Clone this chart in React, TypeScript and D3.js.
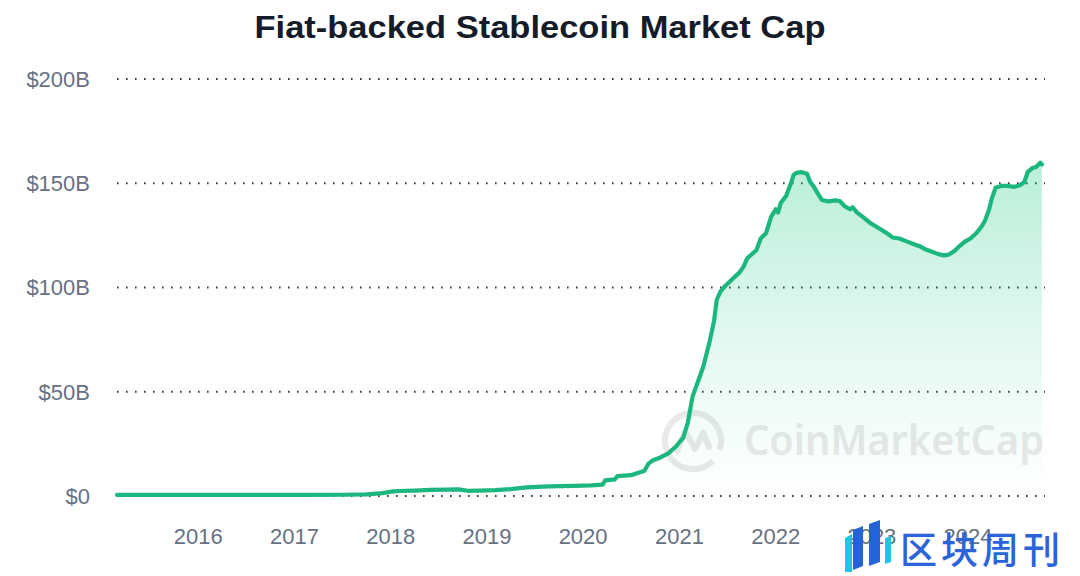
import React, { useEffect, useRef } from 'react';
import * as d3 from 'd3';

// Market cap in $B
const dates = [
  '2015-02-27', '2015-09-01', '2016-03-01', '2016-09-01', '2017-03-01', '2017-07-01',
  '2017-10-01', '2017-12-01', '2018-01-10', '2018-02-01', '2018-04-01', '2018-06-01',
  '2018-08-01', '2018-09-15', '2018-10-20', '2018-12-01', '2019-02-01', '2019-04-01',
  '2019-06-01', '2019-08-01', '2019-10-01', '2019-12-01', '2020-02-01', '2020-03-15',
  '2020-03-25', '2020-05-01', '2020-05-10', '2020-07-01', '2020-08-01', '2020-08-20',
  '2020-09-05', '2020-09-20', '2020-10-20', '2020-11-20', '2020-12-20', '2021-01-15',
  '2021-02-01', '2021-02-20', '2021-03-15', '2021-04-01', '2021-04-25', '2021-05-12',
  '2021-05-22', '2021-06-05', '2021-06-25', '2021-07-20', '2021-08-15', '2021-09-01',
  '2021-09-15', '2021-10-20', '2021-11-05', '2021-11-25', '2021-12-15', '2022-01-01',
  '2022-01-10', '2022-01-20', '2022-02-10', '2022-03-01', '2022-03-10', '2022-03-20',
  '2022-04-10', '2022-04-30', '2022-05-12', '2022-05-25', '2022-06-10', '2022-06-25',
  '2022-07-20', '2022-08-15', '2022-09-01', '2022-09-20', '2022-10-10', '2022-10-20',
  '2022-11-05', '2022-12-01', '2022-12-25', '2023-01-20', '2023-02-15', '2023-03-05',
  '2023-03-20', '2023-04-15', '2023-05-15', '2023-06-15', '2023-07-01', '2023-07-20',
  '2023-08-20', '2023-09-10', '2023-10-01', '2023-10-20', '2023-11-10', '2023-12-01',
  '2023-12-20', '2024-01-10', '2024-02-01', '2024-02-20', '2024-03-05', '2024-03-20',
  '2024-04-01', '2024-04-15', '2024-05-10', '2024-06-01', '2024-06-25', '2024-07-15',
  '2024-08-01', '2024-08-15', '2024-09-01', '2024-09-15', '2024-10-01', '2024-10-07'
];
const marketCap = [
  0.5, 0.5, 0.5, 0.5, 0.5, 0.6,
  0.8, 1.4, 2.2, 2.4, 2.6, 2.9,
  3.1, 3.2, 2.5, 2.6, 2.8, 3.3,
  4.1, 4.5, 4.7, 4.9, 5.1, 5.5,
  7.5, 8.0, 9.5, 10.0, 11.3, 12.0,
  15.5, 17.0, 18.5, 20.5, 24.0, 28.0,
  35.0, 48.0, 56.0, 62.0, 74.0, 84.0,
  94.0, 98.0, 101.0, 104.0, 107.0, 110.0,
  114.0, 118.0, 123.5, 126.0, 134.0, 137.5,
  136.0, 140.5, 144.0, 150.5, 154.0, 155.0,
  155.3, 154.5, 150.5, 148.5, 145.0, 142.0,
  141.3, 141.8, 141.5, 139.0, 137.5, 138.5,
  136.0, 133.5, 131.0, 129.0, 127.0, 125.5,
  124.0, 123.5, 122.0, 120.5, 119.8, 118.5,
  117.0, 116.0, 115.4, 115.8, 117.5, 120.0,
  122.0, 123.5, 126.0, 129.0, 132.0, 137.0,
  143.0, 148.0, 148.8, 148.7, 148.3, 149.0,
  150.5, 155.5, 157.3, 157.8, 159.8, 159.0
];
const yTicks = [0, 50, 100, 150, 200];
const yTickLabels = ['$0', '$50B', '$100B', '$150B', '$200B'];
const xTickYears = [2016, 2017, 2018, 2019, 2020, 2021, 2022, 2023, 2024];

const W = 1080;
const H = 576;

export default function App() {
  const ref = useRef<SVGSVGElement>(null);

  useEffect(() => {
    document.body.style.margin = '0';
    const svg = d3.select(ref.current);
    svg.selectAll('*').remove();

    const parse = d3.timeParse('%Y-%m-%d');
    const data = dates.map((d, i) => ({ date: parse(d) as Date, value: marketCap[i] }));

    const x = d3.scaleTime()
      .domain([parse('2015-02-27') as Date, parse('2024-10-19') as Date])
      .range([117, 1045]);
    const y = d3.scaleLinear().domain([0, 200]).range([496, 79]);

    // gradient for the area
    const defs = svg.append('defs');
    const grad = defs.append('linearGradient')
      .attr('id', 'areaGrad')
      .attr('gradientUnits', 'userSpaceOnUse')
      .attr('x1', 0).attr('x2', 0)
      .attr('y1', y(160)).attr('y2', y(0));
    grad.append('stop').attr('offset', '0%').attr('stop-color', '#16c784').attr('stop-opacity', 0.3);
    grad.append('stop').attr('offset', '60%').attr('stop-color', '#16c784').attr('stop-opacity', 0.1);
    grad.append('stop').attr('offset', '100%').attr('stop-color', '#16c784').attr('stop-opacity', 0.0);

    // title
    svg.append('text')
      .attr('x', 540)
      .attr('y', 38)
      .attr('text-anchor', 'middle')
      .attr('font-family', 'Liberation Sans, Arial, sans-serif')
      .attr('font-weight', 'bold')
      .attr('font-size', 32)
      .attr('fill', '#151b29')
      .attr('textLength', 571)
      .attr('lengthAdjust', 'spacingAndGlyphs')
      .text('Fiat-backed Stablecoin Market Cap');

    // grid lines + y labels
    const yAxis = svg.append('g');
    yAxis.selectAll('line')
      .data(yTicks)
      .enter()
      .append('line')
      .attr('x1', 117)
      .attr('x2', 1045)
      .attr('y1', (d) => y(d))
      .attr('y2', (d) => y(d))
      .attr('stroke', '#3a3a3a')
      .attr('stroke-width', 2)
      .attr('stroke-dasharray', '1.6 7.4');
    yAxis.selectAll('text')
      .data(yTicks)
      .enter()
      .append('text')
      .attr('x', 90)
      .attr('y', (d) => y(d))
      .attr('dy', '0.36em')
      .attr('text-anchor', 'end')
      .attr('font-family', 'Liberation Sans, Arial, sans-serif')
      .attr('font-size', 22)
      .attr('fill', '#677183')
      .text((d, i) => yTickLabels[i]);

    // x labels
    svg.append('g')
      .selectAll('text')
      .data(xTickYears)
      .enter()
      .append('text')
      .attr('x', (d) => x(new Date(d, 0, 1)))
      .attr('y', 544)
      .attr('text-anchor', 'middle')
      .attr('font-family', 'Liberation Sans, Arial, sans-serif')
      .attr('font-size', 22)
      .attr('fill', '#677183')
      .text((d) => String(d));

    // CoinMarketCap watermark
    const wm = svg.append('g').attr('opacity', 0.85);
    const cx = 693, cy = 441, r = 28;
    const arc = d3.arc()({ innerRadius: r, outerRadius: r, startAngle: 0.75 * Math.PI, endAngle: 2.6 * Math.PI } as any);
    wm.append('path')
      .attr('d', arc as string)
      .attr('transform', `translate(${cx},${cy})`)
      .attr('fill', 'none')
      .attr('stroke', '#e7e5e6')
      .attr('stroke-width', 6)
      .attr('stroke-linecap', 'round');
    wm.append('path')
      .attr('d', `M${cx - 16},${cy + 10} L${cx - 8},${cy - 10} L${cx + 2},${cy + 8} L${cx + 10},${cy - 8} L${cx + 16},${cy + 6}`)
      .attr('fill', 'none')
      .attr('stroke', '#e7e5e6')
      .attr('stroke-width', 6)
      .attr('stroke-linejoin', 'round')
      .attr('stroke-linecap', 'round');
    wm.append('text')
      .attr('x', 744)
      .attr('y', 455)
      .attr('font-family', 'Noto Sans, sans-serif')
      .attr('font-weight', 600)
      .attr('font-size', 42)
      .attr('fill', '#e7e5e6')
      .attr('textLength', 300)
      .attr('lengthAdjust', 'spacingAndGlyphs')
      .text('CoinMarketCap');

    // area + line
    const area = d3.area<{ date: Date; value: number }>()
      .x((d) => x(d.date))
      .y0(y(0))
      .y1((d) => y(d.value))
      .curve(d3.curveLinear);
    svg.append('path')
      .datum(data)
      .attr('d', area)
      .attr('fill', 'url(#areaGrad)');

    const line = d3.line<{ date: Date; value: number }>()
      .x((d) => x(d.date))
      .y((d) => y(d.value))
      .curve(d3.curveLinear);
    svg.append('path')
      .datum(data)
      .attr('d', line)
      .attr('fill', 'none')
      .attr('stroke', '#1bb77f')
      .attr('stroke-width', 4.2)
      .attr('stroke-linejoin', 'round')
      .attr('stroke-linecap', 'round');

    // 区块周刊 logo, bottom right
    const logo = svg.append('g');
    logo.append('path')
      .attr('d', 'M845,538 L852,534 L852,572 L845,572 Z')
      .attr('fill', '#21c4ea');
    logo.append('path')
      .attr('d', 'M853,530 L863,526 L863,566 L853,570 Z')
      .attr('fill', '#2563d9');
    logo.append('path')
      .attr('d', 'M869,524 L880,520 L880,562 L869,566 Z')
      .attr('fill', '#2563d9');
    logo.append('path')
      .attr('d', 'M885,538 L891,536 L891,562 L885,564 Z')
      .attr('fill', '#21c4ea');
    logo.append('text')
      .attr('x', 900)
      .attr('y', 564)
      .attr('font-family', 'Noto Sans CJK SC, sans-serif')
      .attr('font-weight', 500)
      .attr('font-size', 37)
      .attr('letter-spacing', 4)
      .attr('fill', '#2a63da')
      .text('区块周刊');
  }, []);

  return (
    <svg ref={ref} width={W} height={H} style={{ display: 'block', background: '#ffffff' }} />
  );
}
